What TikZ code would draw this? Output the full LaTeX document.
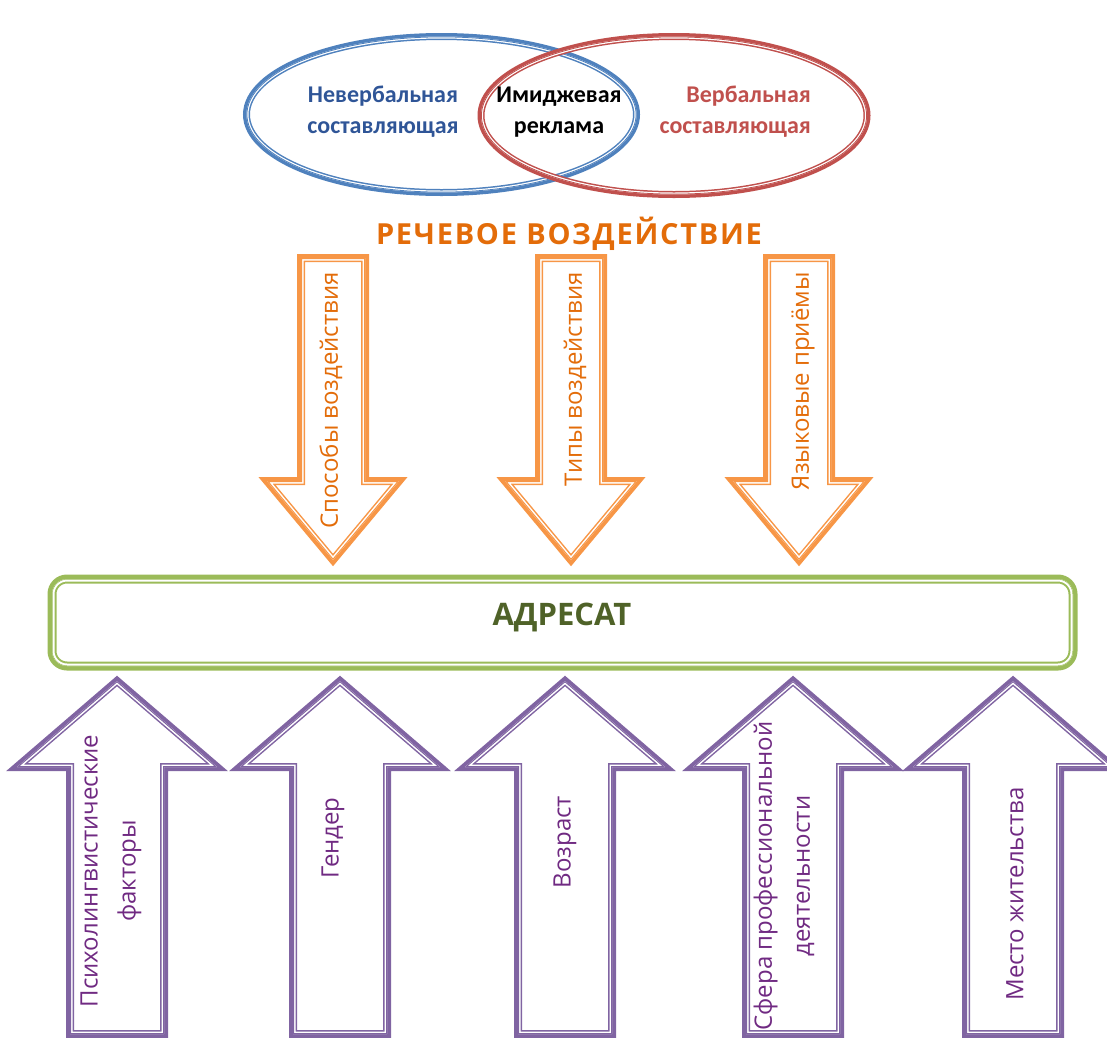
\documentclass[tikz,border=0pt]{standalone}
\usepackage{fontspec}
\setmainfont{Open Sans}
\newfontfamily\calib{Carlito}
\definecolor{bluel}{HTML}{4F81BD}
\definecolor{bluet}{HTML}{2F5597}
\definecolor{redl}{HTML}{C0504D}
\definecolor{redt}{HTML}{C0504D}
\definecolor{orl}{HTML}{F79646}
\definecolor{ort}{HTML}{E36C09}
\definecolor{grl}{HTML}{9BBB59}
\definecolor{grt}{HTML}{4F6228}
\definecolor{pul}{HTML}{8064A2}
\definecolor{put}{HTML}{702A82}
% double band: thick outer line, thin white gap, thin inner line
\newcommand\dband[6][]{%
  \draw[#2,line width=#3,#1] #6;
  \begin{scope}\clip[#1] #6;
    \draw[white,line width=#4,#1] #6;
    \draw[#2,line width=#5,#1] #6;
  \end{scope}}
\newcommand\downarr[1]{\dband{orl}{8pt}{5pt}{2pt}{(#1-32,258) -- (#1+32,258) -- (#1+32,481) -- (#1+66,481) -- (#1,560) -- (#1-66,481) -- (#1-32,481) -- cycle}}
\newcommand\uparr[1]{\dband{pul}{8pt}{5pt}{2pt}{(#1,681) -- (#1+100,767) -- (#1+47,767) -- (#1+47,1034) -- (#1-47,1034) -- (#1-47,767) -- (#1-100,767) -- cycle}}
\tikzset{
  ell/.style={font=\calib\bfseries\fontsize{24}{31}\selectfont, inner sep=0pt},
  vdown/.style={rotate=90, anchor=east, text=ort, font=\fontsize{24}{38}\selectfont, inner sep=0pt},
  vup/.style={rotate=90, align=center, text=put, font=\fontsize{24}{38}\selectfont, inner sep=0pt},
}
\begin{document}
\begin{tikzpicture}[x=1pt,y=-1pt]
\useasboundingbox (0,0) rectangle (1107,1037);
\clip (0,0) rectangle (1107,1037);
% Venn ellipses
\dband{bluel}{7pt}{4pt}{1.6pt}{(441.5,114.5) ellipse [x radius=195, y radius=78]}
\dband{redl}{7pt}{4pt}{1.6pt}{(674,115.5) ellipse [x radius=193, y radius=79]}
\node[ell, text=bluet, align=center] (nonverb) at (383,112) {Невербальная\\составляющая};
\node[ell, text=black, align=center] (image) at (559,112) {Имиджевая\\реклама};
\node[ell, text=redt, align=right, anchor=east] (verb) at (811,112) {Вербальная\\составляющая};
% heading
\node[text=ort, font=\bfseries\fontsize{29}{32}\selectfont\addfontfeature{LetterSpace=6}, inner sep=0pt] (head) at (569,234) {РЕЧЕВОЕ ВОЗДЕЙСТВИЕ};
% orange arrows
\downarr{333}
\downarr{571}
\downarr{799}
\node[vdown] (d1) at (331,272) {Способы воздействия};
\node[vdown] (d2) at (575,272) {Типы воздействия};
\node[vdown] (d3) at (803,272) {Языковые приёмы};
% addressee
\dband[rounded corners=15pt]{grl}{9pt}{5pt}{1pt}{(52,579) rectangle (1073,666)}
\node[text=grt, font=\bfseries\fontsize{31}{36}\selectfont, inner sep=0pt] (addr) at (562,617) {АДРЕСАТ};
% purple arrows
\uparr{117}
\uparr{340}
\uparr{565}
\uparr{793}
\uparr{1013}
\node[vup] (u1) at (111,871) {Психолингвистические\\факторы};
\node[vup] (u2) at (333,838) {Гендер};
\node[vup] (u3) at (565,842) {Возраст};
\node[vup] (u4) at (784,876) {Сфера профессиональной\\деятельности};
\node[vup] (u5) at (1015,894) {Место жительства};
\end{tikzpicture}
\end{document}
